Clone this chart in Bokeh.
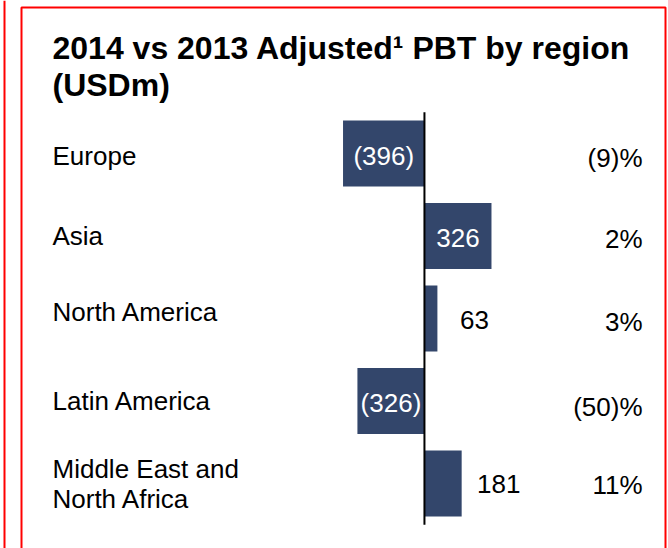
from bokeh.plotting import figure
from bokeh.models import Range1d, Label, BoxAnnotation, Span, ColumnDataSource
from bokeh.embed import file_html
from bokeh.resources import INLINE

regions = ["Europe", "Asia", "North America", "Latin America", ["Middle East and", "North Africa"]]
values = [-396, 326, 63, -326, 181]
value_labels = ["(396)", "326", "63", "(326)", "181"]
pct_labels = ["(9)%", "2%", "3%", "(50)%", "11%"]

FONT = "Liberation Sans"
W, H = 668, 548
NAVY = "#33466b"
RED = "#ff0000"
label_nudge = [-2, 0, 7, 0, 0]      # small vertical nudges (px) for region labels
pct_nudge = [-4, -3, -3, -6, -2]    # small vertical nudges (px) for percentage labels

idx = list(range(len(values)))

p = figure(width=W, height=H, output_backend="svg", toolbar_location=None,
           x_range=Range1d(-2062, 1187), y_range=Range1d(4.788, -1.855),
           min_border=0, outline_line_color=None)
p.axis.visible = False
p.grid.visible = False
p.background_fill_color = "white"

# bars
src = ColumnDataSource(dict(y=idx, v=values, lab=value_labels))
p.hbar(y="y", left=0, right="v", height=0.8, source=src, fill_color=NAVY, line_color=None)

# zero line
p.segment(x0=[0], y0=[-0.5], x1=[0], y1=[4.5], line_color="black", line_width=2)

# value labels
inside = [i for i in idx if abs(values[i]) >= 200]
outside = [i for i in idx if abs(values[i]) < 200]
p.text(x=[values[i] / 2 for i in inside], y=[i for i in inside], text=[value_labels[i] for i in inside],
       text_color="white", text_font_size="26px", text_align="center", text_baseline="middle",
       y_offset=2, text_font={"value": FONT})
p.text(x=[values[i] for i in outside], y=[i for i in outside], text=[value_labels[i] for i in outside],
       text_color="black", text_font_size="26px", text_align="center", text_baseline="middle",
       x_offset=37, y_offset=1, text_font={"value": FONT})

# region labels
for i, r in enumerate(regions):
    if isinstance(r, list):
        for k, line in enumerate(r):
            p.add_layout(Label(x=52, x_units="screen", y=i, y_units="data", text=line,
                               y_offset=14 - 30 * k + label_nudge[i], text_font=FONT,
                               text_font_size="26px",
                               text_baseline="middle", text_color="black"))
    else:
        p.add_layout(Label(x=52, x_units="screen", y=i, y_units="data", text=r,
                           y_offset=label_nudge[i], text_font=FONT, text_font_size="26px",
                           text_baseline="middle", text_color="black"))

# percentage labels
for i, t in enumerate(pct_labels):
    p.add_layout(Label(x=642, x_units="screen", y=i, y_units="data", text=t,
                       y_offset=pct_nudge[i], text_font=FONT, text_font_size="26px",
                       text_align="right", text_baseline="middle", text_color="black"))

# title
p.add_layout(Label(x=52, y=H - 47, x_units="screen", y_units="screen",
                   text="2014 vs 2013 Adjusted\u00b9 PBT by region", text_font=FONT,
                   text_font_style="bold", text_font_size="32px", text_baseline="alphabetic",
                   text_color="black"))
p.add_layout(Label(x=52, y=H - 84, x_units="screen", y_units="screen",
                   text="(USDm)", text_font=FONT,
                   text_font_style="bold", text_font_size="32px", text_baseline="alphabetic",
                   text_color="black"))

# red frames
p.add_layout(BoxAnnotation(left=21, right=665, top=H - 7, bottom=-20,
                           left_units="screen", right_units="screen",
                           top_units="screen", bottom_units="screen",
                           fill_alpha=0, line_color=RED, line_alpha=1, line_width=2))
p.add_layout(Span(location=4, location_units="screen", dimension="height",
                  line_color=RED, line_width=2))

open("out.html", "w").write(file_html(p, INLINE))
